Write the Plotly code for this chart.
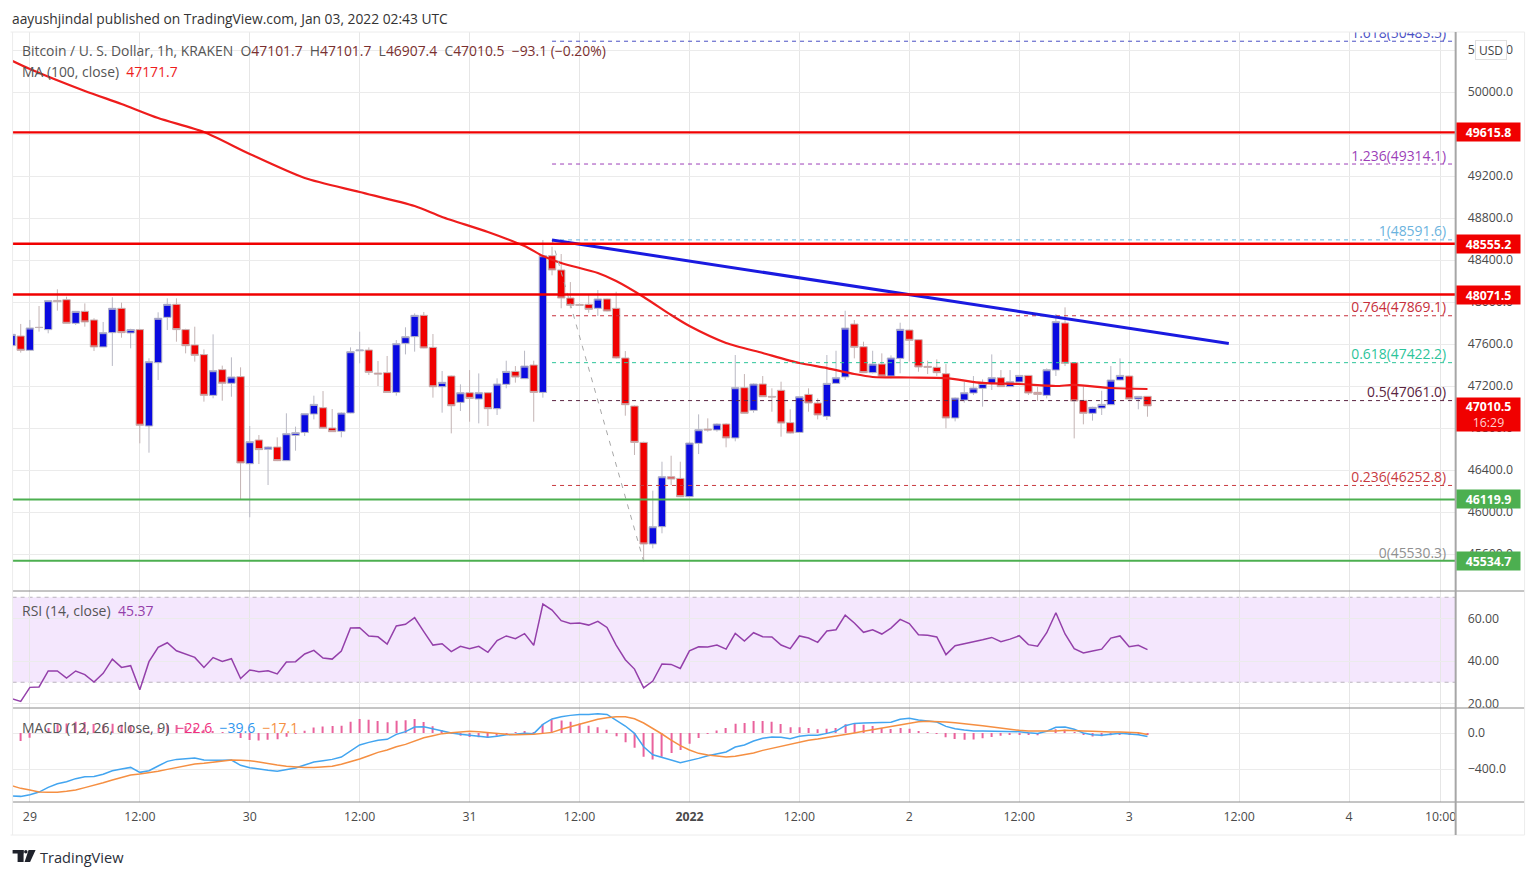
import pandas as pd
import plotly.graph_objects as go

W, H = 1536, 877
YS = 1.0046
FONT = "Open Sans"

opens = [47584,47676,47540,47759,47737,48015,48022,47797,47911,47829,
47572,47708,47940,47705,47737,46819,47422,47854,47978,47737,
47591,47499,47111,47356,47226,47289,46460,46686,46597,46619,
46489,46730,46758,46933,46993,46800,46768,46943,47535,47543,
47323,47327,47139,47606,47670,47873,47568,47193,47295,47044,
47136,47076,47136,46984,47216,47339,47270,47400,47139,48441,
48305,48038,47977,47978,47940,48029,47940,47467,47009,46663,
45695,45860,46336,46320,46146,46654,46790,46781,46838,46705,
47184,46968,47219,47101,47159,46851,46758,47120,47038,46911,
47225,47286,47790,47574,47327,47409,47295,47463,47733,47641,
47387,47378,47317,46895,47066,47133,47178,47225,47279,47194,
47238,47301,47140,47111,47352,47800,47422,47063,46940,46990,
47022,47257,47295,47076,47101.7]
closes = [47692,47540,47753,47757,48013,48003,47797,47911,47810,47572,
47708,47940,47708,47737,46826,47432,47845,47978,47737,47584,
47492,47111,47346,47226,47286,46467,46670,46594,46619,46489,
46746,46756,46936,47025,46797,46765,46943,47527,47543,47330,
47314,47139,47603,47670,47873,47562,47193,47235,47012,47136,
47082,47136,46984,47219,47339,47285,47390,47139,48441,48305,
48038,47968,47968,47930,48029,47914,47467,47022,46663,45695,
45860,46336,46314,46146,46657,46784,46781,46838,46705,47184,
46940,47219,47098,47095,46847,46752,47098,47038,46924,47225,
47279,47752,47568,47327,47409,47295,47467,47740,47635,47381,
47378,47327,46895,47086,47136,47181,47225,47279,47194,47241,
47301,47133,47120,47355,47813,47416,47057,46940,46997,47025,
47257,47301,47076,47101,47010.5]
highs = [47710,47791,47829,47962,48015,48121,48051,47915,47987,47845,
47810,48045,47994,47745,47745,47464,47902,48035,48035,47745,
47765,47549,47692,47394,47473,47378,46819,46733,46625,46711,
46940,46813,46940,47108,47152,46981,46950,47568,47717,47568,
47438,47486,47638,47759,47892,47905,47695,47343,47300,47216,
47352,47320,47140,47273,47441,47390,47536,47441,48591,48527,
48457,48190,47985,48067,48114,48032,48098,47533,47015,46670,
46203,46479,46536,46479,46670,46930,46892,46845,46845,47495,
47314,47225,47295,47178,47241,46978,47105,47178,47082,47495,
47536,47917,47828,47622,47536,47511,47492,47803,47740,47645,
47441,47454,47409,47092,47241,47295,47263,47501,47352,47352,
47305,47305,47194,47368,47886,47949,47428,47194,47003,47155,
47390,47463,47301,47105,47101.7]
lows = [47575,47518,47535,47718,47702,47918,47795,47781,47765,47533,
47570,47391,47660,47559,46654,46565,47257,47733,47622,47511,
47432,47051,47083,47060,47098,46121,45950,46457,46257,46485,
46485,46584,46724,46882,46790,46762,46711,46940,47416,47305,
47200,47135,47108,47501,47527,47560,47089,46946,46749,46962,
46860,46844,46819,46924,47178,47232,47268,46860,47089,48254,
47940,47940,47965,47898,47867,47910,47462,46917,46543,45530,
45654,45797,46257,46142,46142,46552,46765,46765,46616,46673,
46935,46946,47095,46955,46717,46748,46755,46955,46882,46876,
47222,47257,47463,47325,47320,47292,47273,47321,47432,47336,
47314,47295,46797,46863,47041,47114,47003,47162,47190,47190,
47235,47114,47057,47082,47295,47390,46701,46835,46870,46924,
47018,47254,47072,46978,46907.4]

ma_hours = [-2,0,6,10,14,19,24,30,36,42,45,50,54,56,58,62,64,67,70,72,76,80,84,87,90,92,96,100,104,108,112,114,118,122]
ma_values = [50300,50219,50010,49886,49752,49619,49410,49181,49048,48914,48810,48667,48533,48438,48371,48276,48200,48048,47876,47771,47610,47514,47419,47371,47314,47286,47281,47276,47229,47219,47200,47210,47181,47171.7]

rsi = [22.3,21.0,27.6,27.8,35.3,35.3,32.0,35.3,33.6,30.1,
34.2,40.9,37.0,37.8,26.5,39.7,46.4,48.6,44.8,43.1,
41.7,37.0,41.6,39.8,41.1,31.8,35.8,35.0,35.4,33.9,
39.5,39.7,43.3,45.0,41.4,40.9,44.7,55.5,55.7,51.8,
51.4,48.0,56.5,57.3,60.4,53.8,47.5,48.1,44.4,46.9,
45.8,46.9,44.1,49.6,51.8,50.5,52.9,47.4,66.8,64.0,
59.0,57.7,57.9,56.9,58.7,55.8,47.5,40.6,36.2,27.4,
30.6,38.6,38.4,36.5,44.8,46.7,46.6,47.5,45.6,53.0,
49.4,53.3,51.4,51.3,47.5,45.8,51.8,50.8,48.8,54.1,
54.7,61.6,57.9,53.5,54.7,52.7,55.5,59.6,57.6,52.4,
52.1,51.3,43.0,47.2,48.3,49.1,50.0,51.1,49.1,50.3,
51.9,47.7,47.0,53.3,62.7,52.7,45.8,43.8,44.7,45.6,
50.8,51.8,46.7,47.4,45.37]

macd = [-700,-704,-685,-656,-604,-563,-541,-507,-485,-482,
-459,-419,-400,-382,-437,-419,-367,-315,-293,-282,
-278,-300,-304,-304,-300,-359,-385,-404,-415,-426,
-411,-389,-356,-322,-307,-293,-267,-196,-133,-104,
-81,-70,-15,15,67,70,44,26,0,-15,
-26,-33,-48,-37,-19,-15,-4,-7,96,156,
181,196,207,207,215,207,144,78,-4,-152,
-241,-274,-300,-330,-307,-282,-252,-230,-211,-156,
-133,-89,-59,-44,-48,-63,-37,-26,-26,-4,
22,81,107,111,115,111,119,152,163,144,
133,122,74,48,33,22,22,22,22,22,
15,4,-4,19,63,67,41,0,-19,-26,
-15,-4,-11,-19,-39.6]
signal = [-585,-615,-633,-656,-659,-659,-648,-633,-607,-582,
-552,-522,-493,-467,-456,-444,-426,-404,-382,-359,
-344,-337,-326,-315,-300,-304,-307,-322,-341,-356,
-370,-378,-382,-382,-378,-370,-348,-322,-289,-252,
-215,-189,-152,-126,-89,-52,-30,-7,4,15,
19,15,4,-7,-15,-19,-19,-15,-4,7,
41,70,100,126,152,170,181,181,159,111,
52,-11,-78,-141,-189,-226,-244,-259,-267,-259,
-244,-222,-193,-170,-148,-126,-100,-81,-67,-52,
-33,-15,0,19,37,56,74,96,115,126,
130,130,122,115,107,93,81,67,52,41,
30,22,22,19,22,30,30,22,19,11,
11,11,11,4,-17.1]
hist = [m - s for m, s in zip(macd, signal)]

level_red = [49615.8, 48555.2, 48071.5]
level_green = [46119.9, 45534.7]
last_price = 47010.5
fib_levels = [50483.5, 49314.1, 48591.6, 47869.1, 47422.2, 47061.0, 46252.8, 45530.3]
fib_ratios = ["1.618", "1.236", "1", "0.764", "0.618", "0.5", "0.236", "0"]
fib_colors = ["#4a4fc4", "#9c3fb8", "#6bb3de", "#c62f3b", "#2cc49a", "#5a2340", "#c83a3f", "#8f8f8f"]
trend_prices = [48590, 47605]
y_ticks_main = [50400, 50000, 49600, 49200, 48800, 48400, 48000, 47600, 47200, 46800, 46400, 46000, 45600]
y_tick_text = ["50400.0", "50000.0", "49600.0", "49200.0", "48800.0", "48400.0", "48000.0", "47600.0", "47200.0", "46800.0", "46400.0", "46000.0", "45600.0"]
x_tick_times = ["2021-12-29 00:00","2021-12-29 12:00","2021-12-30 00:00","2021-12-30 12:00","2021-12-31 00:00","2021-12-31 12:00",
                "2022-01-01 00:00","2022-01-01 12:00","2022-01-02 00:00","2022-01-02 12:00","2022-01-03 00:00","2022-01-03 12:00",
                "2022-01-04 00:00","2022-01-04 10:00"]
x_tick_text = ["29","12:00","30","12:00","31","12:00","<b>2022</b>","12:00","2","12:00","3","12:00","4","10:00"]

base = pd.Timestamp("2021-12-29 00:00")
def t(h):
    return base + pd.Timedelta(hours=h)
times = pd.date_range("2021-12-28 22:00", periods=len(opens), freq="h")
PX_PER_H = 110 / 12
def px_h(px):
    return (px - 29.3) / PX_PER_H
fx = lambda px: (px + 0.6) / W
fy = lambda py: 1 - py * YS / H
TOP = 32

fig = go.Figure()
fig.add_trace(go.Candlestick(x=times, open=opens, high=highs, low=lows, close=closes, xaxis="x", yaxis="y",
    increasing=dict(fillcolor="#0a0ae0", line=dict(color="#b9b9c4", width=1)),
    decreasing=dict(fillcolor="#f00000", line=dict(color="#c4b4b4", width=1)),
    whiskerwidth=0, showlegend=False, hoverinfo="skip"))
fig.add_trace(go.Scatter(x=[t(h) for h in ma_hours], y=ma_values, mode="lines", line=dict(color="#ee1c1c", width=2.2, shape="spline", smoothing=0.7), xaxis="x", yaxis="y"))

# Fibonacci
fib_start, fib_label = t(57), t(px_h(1446.5))
x_right = t(px_h(1456))
for lv, r, c in zip(fib_levels, fib_ratios, fib_colors):
    if r != "0":
        fig.add_trace(go.Scatter(x=[fib_start, x_right], y=[lv, lv], mode="lines", line=dict(color=c, width=1, dash="4px,4px"), xaxis="x", yaxis="y"))
    fig.add_trace(go.Scatter(x=[fib_label], y=[lv], mode="text", text=[f"{r}({lv:.1f})"], textposition="top left",
        textfont=dict(family=FONT, size=13.9, color=c), cliponaxis=True, xaxis="x", yaxis="y"))
fig.add_trace(go.Scatter(x=[t(57), t(67)], y=[fib_levels[2], fib_levels[7]], mode="lines", line=dict(color="#a8a8a8", width=1, dash="5px,6px"), xaxis="x", yaxis="y"))
fig.add_trace(go.Scatter(x=[t(57), t(px_h(1229))], y=trend_prices, mode="lines", line=dict(color="#1a1ae0", width=3), xaxis="x", yaxis="y"))

# RSI
fig.add_trace(go.Scatter(x=times, y=rsi, mode="lines", line=dict(color="#9440aa", width=1.5), xaxis="x", yaxis="y2"))
# MACD
fig.add_trace(go.Bar(x=times, y=hist, width=420000, marker=dict(color="#e9629c", line=dict(width=0)), xaxis="x", yaxis="y3"))
fig.add_trace(go.Scatter(x=times, y=macd, mode="lines", line=dict(color="#42a5f0", width=1.5), xaxis="x", yaxis="y3"))
fig.add_trace(go.Scatter(x=times, y=signal, mode="lines", line=dict(color="#f58f42", width=1.5), xaxis="x", yaxis="y3"))

shapes = []
for lv in level_red:
    shapes.append(dict(type="line", xref="paper", yref="y", x0=fx(12), x1=fx(1456), y0=lv, y1=lv, line=dict(color="#f00000", width=2.4), layer="above"))
for lv in level_green:
    shapes.append(dict(type="line", xref="paper", yref="y", x0=fx(12), x1=fx(1456), y0=lv, y1=lv, line=dict(color="#4caf50", width=2), layer="above"))
shapes.append(dict(type="rect", xref="paper", yref="y2", x0=fx(12), x1=fx(1456), y0=30, y1=70, fillcolor="rgba(156,39,240,0.11)", line=dict(width=0), layer="below"))
for v in (30, 70):
    shapes.append(dict(type="line", xref="paper", yref="y2", x0=fx(12), x1=fx(1456), y0=v, y1=v, line=dict(color="#b9b2bd", width=1, dash="4px,4px"), layer="below"))
for py in (591, 708, 802):
    shapes.append(dict(type="line", xref="paper", yref="paper", x0=fx(12), x1=fx(1525), y0=fy(py), y1=fy(py), line=dict(color="#8a8a8a", width=1)))
for py in (TOP, 835):
    shapes.append(dict(type="line", xref="paper", yref="paper", x0=fx(10), x1=fx(1525), y0=fy(py), y1=fy(py), line=dict(color="#ececec", width=1)))
for px in (12, 1525):
    shapes.append(dict(type="line", xref="paper", yref="paper", x0=fx(px), x1=fx(px), y0=fy(TOP), y1=fy(835), line=dict(color="#ececec", width=1)))
shapes.append(dict(type="line", xref="paper", yref="paper", x0=fx(1456), x1=fx(1456), y0=fy(TOP), y1=fy(835), line=dict(color="#a6a6a6", width=2)))
# logo
LOGO = "#1f222b"
shapes.append(dict(type="rect", xref="paper", yref="paper", x0=fx(12), x1=fx(23), y0=fy(850), y1=fy(853.5), fillcolor=LOGO, line=dict(width=0)))
shapes.append(dict(type="rect", xref="paper", yref="paper", x0=fx(17), x1=fx(23), y0=fy(850), y1=fy(862), fillcolor=LOGO, line=dict(width=0)))
shapes.append(dict(type="circle", xref="paper", yref="paper", x0=fx(23.5), x1=fx(27), y0=fy(850), y1=fy(853.5), fillcolor=LOGO, line=dict(width=0)))
shapes.append(dict(type="path", xref="paper", yref="paper",
    path=f"M {fx(28)} {fy(850)} L {fx(35)} {fy(850)} L {fx(29.5)} {fy(862)} L {fx(24)} {fy(862)} Z", fillcolor=LOGO, line=dict(width=0)))

ann = []
def text(px, py, s, size=13.9, color="#555555", anchor="left"):
    ann.append(dict(xref="paper", yref="paper", x=fx(px - 2), y=fy(py), text=s, showarrow=False, xanchor=anchor, yanchor="middle",
                    font=dict(family=FONT, size=size, color=color)))
def tag(price, s, bg, h=14):
    ann.append(dict(xref="paper", yref="y", x=fx(1456), y=price, text=s, showarrow=False, xanchor="left", yanchor="middle",
                    width=59, height=h, bgcolor=bg, borderpad=2, align="center", font=dict(family=FONT, size=12.3, color="#ffffff")))

text(11, 18, "aayushjindal published on TradingView.com, Jan 03, 2022 02:43 UTC", 13.8, "#333333")
V = "#7a2f2f"
def s(c, x): return f"<span style='color:{c}'>{x}</span>"
text(21, 50, "Bitcoin / U. S. Dollar, 1h, KRAKEN&nbsp;&nbsp;O" + s(V, "47101.7") + "&nbsp;&nbsp;H" + s(V, "47101.7") + "&nbsp;&nbsp;L" + s(V, "46907.4")
     + "&nbsp;&nbsp;C" + s(V, "47010.5") + "&nbsp;&nbsp;" + s(V, "−93.1 (−0.20%)"))
text(21, 71, "MA (100, close)&nbsp;&nbsp;" + s("#ee1c1c", "47171.7"))
text(21, 610, "RSI (14, close)&nbsp;&nbsp;" + s("#9440aa", "45.37"), 14)
text(21, 727, "MACD (12, 26, close, 9)&nbsp;&nbsp;" + s("#f0307f", "−22.6") + "&nbsp;&nbsp;" + s("#2f96ee", "−39.6") + "&nbsp;&nbsp;" + s("#f58f42", "−17.1"), 14)
text(39, 857, "TradingView", 14.6, "#2a2e39")

for lv in level_red:
    tag(lv, f"<b>{lv:.1f}</b>", "#f00000")
for lv in level_green:
    tag(lv, f"<b>{lv:.1f}</b>", "#4caf50")
tag(46929, f"<b>{last_price:.1f}</b><br><span style='color:#ffd0d0'>16:29</span>", "#f00000", h=29)
ann.append(dict(xref="paper", yref="paper", x=fx(1491.5), y=fy(50), text="USD", showarrow=False, xanchor="center", yanchor="middle",
                width=28, height=16, bgcolor="#ffffff", bordercolor="#e0e0e0", borderwidth=1, borderpad=1,
                font=dict(family=FONT, size=12, color="#444444")))

ax = dict(showline=False, zeroline=False, gridcolor="#ebebeb", gridwidth=1, side="right", ticks="",
          tickfont=dict(family=FONT, size=12.3, color="#4a4a4a"), fixedrange=True, anchor="x", ticklabelstandoff=11)

fig.update_layout(
    width=W, height=H, autosize=False, margin=dict(l=0, r=0, t=0, b=0), paper_bgcolor="#ffffff", plot_bgcolor="#ffffff",
    showlegend=False, barmode="overlay", boxgap=0.1, boxgroupgap=0.1, shapes=shapes, annotations=ann, font=dict(family=FONT),
    xaxis=dict(domain=[fx(12), fx(1456)], range=[t(px_h(12)), t(px_h(1456))], type="date", anchor="y3",
               rangeslider=dict(visible=False), tickmode="array", tickvals=x_tick_times, ticktext=x_tick_text,
               showgrid=True, gridcolor="#e6e6e6", gridwidth=1, ticks="", showline=False, zeroline=False,
               tickfont=dict(family=FONT, size=12.3, color="#4a4a4a"), ticklabelstandoff=6, fixedrange=True),
    yaxis=dict(domain=[fy(591), fy(TOP)], range=[50000 - (591 - 92) / 0.105, 50000 + (92 - TOP) / 0.105],
               tickmode="array", tickvals=y_ticks_main, ticktext=y_tick_text, **ax),
    yaxis2=dict(domain=[fy(708), fy(591)], range=[60 - (708 - 618.5) / 2.125, 60 + (618.5 - 591) / 2.125],
                tickmode="array", tickvals=[60, 40, 20], ticktext=["60.00", "40.00", "20.00"], **ax),
    yaxis3=dict(domain=[fy(802), fy(708)], range=[-(802 - 733) / 0.09, (733 - 708) / 0.09],
                tickmode="array", tickvals=[0, -400], ticktext=["0.0", "−400.0"], **ax),
)
fig.write_html("out.html", post_script="document.documentElement.style.overflow='hidden';document.body.style.margin='0';document.body.style.overflow='hidden';", config=dict(displayModeBar=False))
